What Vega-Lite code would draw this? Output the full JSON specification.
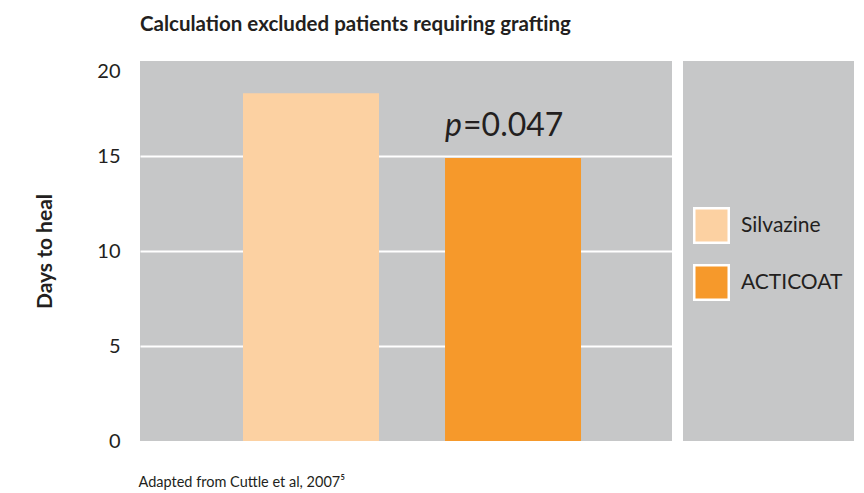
{
  "$schema": "https://vega.github.io/schema/vega-lite/v6.json",
  "background": "white",
  "padding": {"left": 34, "top": 14, "right": 10, "bottom": 4},
  "datasets": {
    "bars": [
      {"treatment": "Silvazine", "days": 18.3},
      {"treatment": "ACTICOAT", "days": 14.9}
    ],
    "annot": [
      {"treatment": "ACTICOAT", "days": 14.9, "italic": "p", "rest": "=0.047"}
    ]
  },
  "spacing": 11,
  "hconcat": [
    {
      "width": 532,
      "height": 380,
      "title": {"text": "Calculation excluded patients requiring grafting", "anchor": "start", "frame": "group", "font": "Lato", "fontSize": 20.5, "fontWeight": "bold", "color": "#231f20", "offset": 26},
      "encoding": {
        "x": {
          "field": "treatment", "type": "nominal", "sort": ["Silvazine", "ACTICOAT"],
          "scale": {"domain": ["Silvazine", "ACTICOAT"], "paddingInner": 0.3267, "paddingOuter": 0.4802, "align": 0.531},
          "axis": {
            "title": "Adapted from Cuttle et al, 2007⁵", "labels": false, "ticks": false, "domain": false,
            "titleFont": "Lato", "titleFontSize": 14.5, "titleFontWeight": "normal", "titleColor": "#231f20",
            "titleAnchor": "start", "titleAlign": "left", "titleBaseline": "alphabetic", "titleX": -2, "titleY": 45
          }
        },
        "y": {
          "field": "days", "type": "quantitative",
          "scale": {"domain": [0, 20]},
          "axis": {
            "title": "Days to heal", "values": [0, 5, 10, 15, 20],
            "grid": true, "gridColor": "white", "gridWidth": 2,
            "gridOpacity": {"condition": {"test": "datum.value == 0 || datum.value == 20", "value": 0}, "value": 1},
            "domain": false, "ticks": false,
            "labelFont": "Lato", "labelFontSize": 20, "labelColor": "#231f20", "labelPadding": 20,
            "labelBaseline": {"condition": {"test": "datum.value == 20", "value": "top"}, "value": "middle"},
            "titleFont": "Lato", "titleFontSize": 21, "titleFontWeight": "bold", "titleColor": "#231f20", "titlePadding": 41
          }
        }
      },
      "layer": [
        {
          "data": {"name": "bars"},
          "mark": {"type": "bar", "width": 136},
          "encoding": {
            "color": {
              "field": "treatment", "type": "nominal",
              "scale": {"domain": ["Silvazine", "ACTICOAT"], "range": ["#fcd1a2", "#f6992b"]},
              "legend": {
                "title": null, "orient": "none", "legendX": 553, "legendY": 146,
                "symbolType": "square", "symbolSize": 1190, "symbolStrokeColor": "white", "symbolStrokeWidth": 2.5,
                "symbolOpacity": 1,
                "labelFont": "Lato", "labelFontSize": 21, "labelColor": "#231f20", "labelOffset": 11,
                "rowPadding": 12, "padding": 0
              }
            }
          }
        },
        {
          "data": {"name": "annot"},
          "mark": {"type": "text", "font": "Lato", "fontSize": 32, "fontStyle": "italic", "align": "right", "baseline": "alphabetic", "dx": -51, "dy": -22, "color": "#231f20"},
          "encoding": {"text": {"field": "italic"}}
        },
        {
          "data": {"name": "annot"},
          "mark": {"type": "text", "font": "Lato", "fontSize": 32, "align": "left", "baseline": "alphabetic", "dx": -50, "dy": -22, "color": "#231f20"},
          "encoding": {"text": {"field": "rest"}}
        }
      ]
    },
    {
      "width": 171,
      "height": 380,
      "data": {"name": "bars"},
      "mark": {"type": "point", "opacity": 0},
      "encoding": {
        "x": {"field": "treatment", "type": "nominal", "axis": null},
        "y": {"field": "days", "type": "quantitative", "axis": null, "scale": {"domain": [0, 20]}}
      }
    }
  ],
  "resolve": {"scale": {"x": "independent", "y": "independent"}},
  "config": {
    "view": {"fill": "#c6c7c8", "stroke": null}
  }
}
